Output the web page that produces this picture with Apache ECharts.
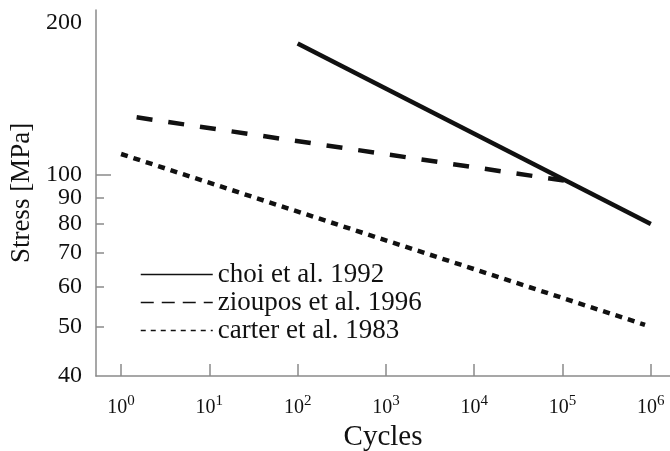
<!DOCTYPE html>
<html>
<head>
<meta charset="utf-8">
<script src="https://cdn.jsdelivr.net/npm/echarts@6/dist/echarts.min.js"></script>
<style>
  html, body { margin: 0; padding: 0; background: #fff; }
  #chart { width: 670px; height: 451px; }
</style>
</head>
<body>
<div id="chart"></div>
<script>
const seriesNames = ["choi et al. 1992", "zioupos et al. 1996", "carter et al. 1983"];
const choiCycles = [100, 1e6];
const choiStress = [182, 80];
const zioCycles = [1.5, 1.25e5];
const zioStress = [130, 97];
const carterCycles = [1, 8.6e5];
const carterStress = [110, 50.5];
const xTicks = [1, 10, 100, 1e3, 1e4, 1e5, 1e6];
const yLabels = [40, 50, 60, 70, 80, 90, 100, 200];
const yTicks = [50, 60, 70, 80, 90];

const serif = "Liberation Serif";
const axisGray = "#8a8a8a";

function pairs(xs, ys) {
  return xs.map((x, i) => [x, ys[i]]);
}

const chart = echarts.init(document.getElementById("chart"), null, { renderer: "canvas" });

const lineStyles = [
  { width: 4.5, type: "solid" },
  { width: 4.5, type: [16, 16] },
  { width: 4.5, type: [7, 6] }
];
const legendStyles = [
  { width: 1.5, type: "solid", color: "#111" },
  { width: 1.5, type: [13, 8], color: "#111" },
  { width: 1.5, type: [5, 5], color: "#111" }
];
const seriesData = [
  pairs(choiCycles, choiStress),
  pairs(zioCycles, zioStress),
  pairs(carterCycles, carterStress)
];

chart.setOption({
  animation: false,
  grid: { left: 96, top: 10, right: 0, bottom: 75, outerBoundsMode: "none", containLabel: false },
  legend: {
    orient: "vertical",
    left: 140,
    top: 261,
    padding: 0,
    itemWidth: 72,
    itemHeight: 14,
    itemGap: 1,
    itemStyle: { color: "rgba(0,0,0,0)", borderWidth: 0 },
    textStyle: { fontFamily: serif, fontSize: 27, lineHeight: 27, color: "#111" },
    data: seriesNames.map((n, i) => ({ name: n, lineStyle: legendStyles[i] }))
  },
  xAxis: {
    type: "log",
    logBase: 10,
    min: 0.52,
    max: 1.65e6,
    name: "Cycles",
    nameLocation: "middle",
    nameGap: 39,
    nameTextStyle: { fontFamily: serif, fontSize: 29, color: "#111" },
    axisLine: { lineStyle: { color: axisGray, width: 1.5 } },
    axisTick: { inside: true, length: 12, customValues: xTicks, lineStyle: { color: axisGray, width: 1.5 } },
    axisLabel: {
      customValues: xTicks,
      margin: 18,
      formatter: v => "{b|10}{s|" + Math.round(Math.log10(v)) + "}",
      rich: {
        b: { fontFamily: serif, fontSize: 20, color: "#111", lineHeight: 24, verticalAlign: "bottom" },
        s: { fontFamily: serif, fontSize: 15, color: "#111", lineHeight: 15, verticalAlign: "top" }
      }
    },
    splitLine: { show: false }
  },
  yAxis: [
    {
      type: "log",
      logBase: 10,
      min: 40,
      max: 212,
      name: "Stress [MPa]",
      nameLocation: "middle",
      nameGap: 60,
      nameRotate: 90,
      nameTextStyle: { fontFamily: serif, fontSize: 27, color: "#111" },
      axisLine: { show: true, lineStyle: { color: axisGray, width: 1.5 } },
      axisTick: { inside: true, length: 8, customValues: yTicks, lineStyle: { color: axisGray, width: 1.5 } },
      axisLabel: { customValues: yLabels, margin: 14, fontFamily: serif, fontSize: 24, color: "#111" },
      splitLine: { show: false }
    },
    {
      type: "log",
      logBase: 10,
      min: 40,
      max: 212,
      position: "left",
      axisLine: { show: false },
      axisTick: { inside: true, length: 15, customValues: [100], lineStyle: { color: axisGray, width: 1.5 } },
      axisLabel: { show: false },
      splitLine: { show: false }
    }
  ],
  series: seriesNames.map((n, i) => ({
    name: n,
    type: "line",
    symbol: "none",
    data: seriesData[i],
    itemStyle: { color: "#111" },
    lineStyle: Object.assign({ color: "#111", cap: "butt" }, lineStyles[i])
  }))
});

window.addEventListener("resize", () => chart.resize());
</script>
</body>
</html>
